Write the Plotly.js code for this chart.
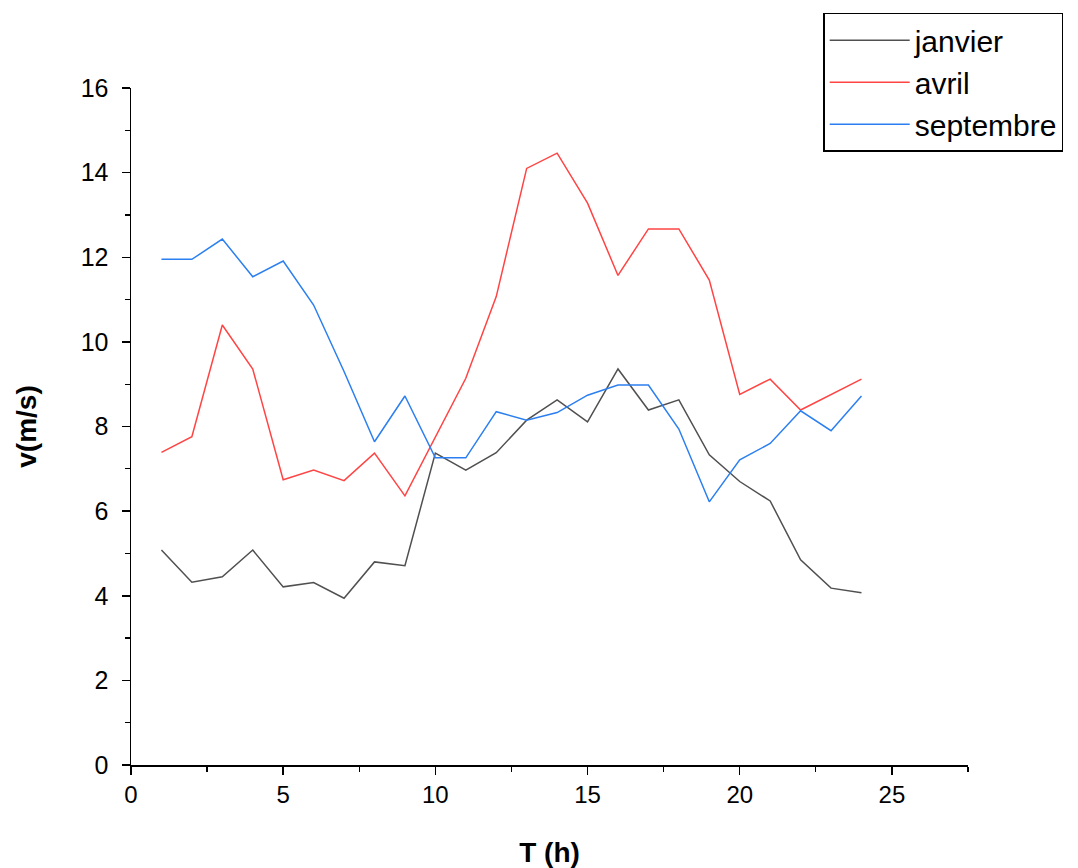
<!DOCTYPE html>
<html>
<head>
<meta charset="utf-8">
<script src="https://cdn.plot.ly/plotly-3.0.1.min.js"></script>
<style>html,body{margin:0;padding:0;background:#fff}#chart{width:1078px;height:868px}</style>
</head>
<body>
<div id="chart"></div>
<script>
const hours = [1,2,3,4,5,6,7,8,9,10,11,12,13,14,15,16,17,18,19,20,21,22,23,24];
const janvier = [5.08,4.32,4.45,5.08,4.21,4.31,3.94,4.80,4.71,7.37,6.97,7.38,8.15,8.63,8.11,9.36,8.39,8.63,7.33,6.70,6.24,4.85,4.18,4.07];
const avril = [7.39,7.76,10.40,9.36,6.74,6.97,6.72,7.37,6.36,7.75,9.14,11.07,14.10,14.46,13.28,11.57,12.67,12.67,11.46,8.76,9.12,8.39,8.76,9.12];
const septembre = [11.95,11.95,12.43,11.54,11.91,10.87,9.30,7.64,8.72,7.26,7.26,8.35,8.15,8.33,8.74,8.98,8.98,7.94,6.22,7.21,7.60,8.37,7.90,8.72];
const seriesNames = ["janvier","avril","septembre"];
const xTitle = "T (h)";
const yTitle = "v(m/s)";

const font = "Arial, 'Liberation Sans', sans-serif";
const colors = ["#505050","#ff4444","#2b7ff0"];
const data = [janvier, avril, septembre].map((ys,i)=>({
  x: hours, y: ys, type: "scatter", mode: "lines", name: seriesNames[i],
  line: {color: colors[i], width: 1.5}
}));

const layout = {
  width: 1078, height: 868,
  margin: {l: 131, r: 110, t: 88, b: 103, autoexpand: false},
  paper_bgcolor: "#fff", plot_bgcolor: "#fff",
  font: {family: font, color: "#000"},
  xaxis: {
    range: [0, 27.5], tickvals: [0,5,10,15,20,25], showgrid: false, zeroline: false,
    showline: true, linecolor: "#000", linewidth: 1.5,
    ticks: "outside", ticklen: 8, tickwidth: 1.5, tickcolor: "#000",
    minor: {dtick: 2.5, tick0: 0, ticks: "outside", ticklen: 5, tickwidth: 1.2, tickcolor: "#000", showgrid: false},
    tickfont: {size: 24, family: font},
    title: {text: xTitle, font: {size: 28, family: font, weight: "bold"}, standoff: 36}
  },
  yaxis: {
    range: [0, 16], tickvals: [0,2,4,6,8,10,12,14,16], showgrid: false, zeroline: false,
    showline: true, linecolor: "#000", linewidth: 1.5,
    ticks: "outside", ticklen: 8, tickwidth: 1.5, tickcolor: "#000",
    minor: {dtick: 1, tick0: 0, ticks: "outside", ticklen: 5, tickwidth: 1.2, tickcolor: "#000", showgrid: false},
    tickfont: {size: 25, family: font},
    ticklabelstandoff: 8,
    title: {text: yTitle, font: {size: 28, family: font, weight: "bold"}, standoff: 36}
  },
  showlegend: true,
  legend: {
    x: 0.827, y: 1.111, xanchor: "left", yanchor: "top",
    bgcolor: "#fff", bordercolor: "#000", borderwidth: 1.5,
    font: {size: 30, family: font, color: "#000"},
    tracegroupgap: 0, itemwidth: 80
  }
};
Plotly.newPlot("chart", data, layout, {displayModeBar: false, staticPlot: true});
</script>
</body>
</html>
